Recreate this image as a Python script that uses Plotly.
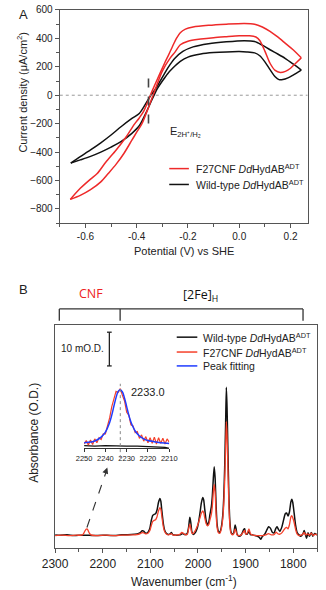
import plotly.graph_objects as go

W, H = 326, 590
def PX(x): return x / W
def PY(y): return 1 - y / H

# ---------------- Panel A data (cyclic voltammetry) ----------------
wt_upper_v = [-0.657, -0.62, -0.58, -0.54, -0.50, -0.46, -0.42, -0.39, -0.37, -0.35, -0.33, -0.31, -0.29,
              -0.27, -0.25, -0.22, -0.18, -0.12, -0.05, 0.02, 0.06, 0.09, 0.12, 0.15, 0.18, 0.21, 0.242]
wt_upper_j = [-477, -432, -385, -335, -280, -220, -165, -128, -75, -15, 35, 95, 158,
              215, 262, 308, 340, 362, 376, 384, 378, 352, 320, 290, 258, 220, 177]
wt_lower_v = [-0.657, -0.62, -0.58, -0.54, -0.50, -0.46, -0.42, -0.39, -0.36, -0.34, -0.32, -0.30, -0.28,
              -0.26, -0.23, -0.20, -0.15, -0.10, -0.05, 0.00, 0.03, 0.06, 0.08, 0.10, 0.12, 0.14, 0.155,
              0.17, 0.19, 0.21, 0.242]
wt_lower_j = [-477, -455, -430, -400, -365, -325, -270, -215, -110, -30, 45, 100, 150,
              190, 238, 268, 290, 300, 305, 307, 305, 298, 278, 235, 180, 130, 110,
              110, 122, 142, 177]
cnf_upper_v = [-0.659, -0.62, -0.58, -0.554, -0.52, -0.48, -0.44, -0.408, -0.39, -0.372, -0.348, -0.33,
               -0.311, -0.29, -0.275, -0.26, -0.245, -0.23, -0.21, -0.18, -0.12, -0.05, 0.02, 0.06, 0.09,
               0.12, 0.15, 0.18, 0.21, 0.242]
cnf_upper_j = [-733, -655, -590, -551, -470, -385, -290, -202, -160, -110, -5, 70,
               147, 230, 286, 345, 400, 440, 465, 480, 492, 500, 505, 500, 480,
               450, 410, 365, 320, 263]
cnf_lower_v = [-0.659, -0.62, -0.58, -0.54, -0.511, -0.48, -0.45, -0.42, -0.40, -0.38, -0.354, -0.33,
               -0.30, -0.269, -0.25, -0.23, -0.20, -0.15, -0.10, -0.05, 0.00, 0.04, 0.065, 0.08, 0.10,
               0.12, 0.14, 0.16, 0.18, 0.20, 0.22, 0.242]
cnf_lower_j = [-733, -705, -665, -610, -551, -485, -410, -320, -260, -202, -86, 30,
               170, 263, 305, 355, 380, 395, 405, 412, 418, 418, 410, 385, 310,
               225, 175, 160, 168, 190, 225, 263]

a_xticks = [-0.6, -0.4, -0.2, 0.0, 0.2]
a_xticktext = ["-0.6", "-0.4", "-0.2", "0.0", "0.2"]
a_yticks = [-800, -600, -400, -200, 0, 200, 400, 600]
e_eq = -0.354

# ---------------- Panel B data (IR spectra, mO.D.) ----------------
wt_wn = [2300, 2290, 2275, 2260, 2245, 2233, 2220, 2200, 2180, 2160, 2140, 2128, 2122, 2117, 2114, 2110,
         2105, 2101, 2098, 2095, 2092, 2089, 2086, 2083, 2080, 2078, 2076, 2073, 2070, 2066, 2062, 2058,
         2056, 2053, 2046, 2038, 2032, 2028, 2023, 2020, 2018, 2017, 2015, 2013, 2010, 2006, 2002, 1999,
         1996, 1993, 1990, 1988, 1986, 1983, 1980, 1977, 1975, 1972, 1970, 1968, 1966, 1964, 1962, 1960,
         1957, 1954, 1951, 1948, 1946, 1944, 1942, 1940.5, 1939, 1937, 1935, 1933, 1931, 1928, 1925, 1922,
         1920, 1918, 1914, 1909, 1904, 1902, 1900, 1897, 1893, 1890, 1885, 1880, 1875, 1871, 1868, 1865,
         1860, 1856, 1852, 1848, 1844, 1840, 1837, 1834, 1831, 1828, 1824, 1820, 1817, 1814, 1811, 1808,
         1805, 1803, 1801, 1798, 1795, 1792, 1788, 1784, 1780, 1777, 1775, 1772, 1769, 1766, 1762, 1759,
         1755, 1750]
wt_abs = [0.2, 0.1, 0.2, 0.0, 0.1, 0.1, 0.0, 0.1, 0.0, 0.2, 0.3, 0.5, 0.8, 1.4, 1.3, 0.7,
          1.0, 2.2, 4.5, 6.0, 6.3, 6.5, 7.6, 9.8, 11.0, 10.2, 7.5, 3.8, 1.6, 0.6, 0.3, 0.6,
          0.9, 0.3, 0.1, 0.2, 0.6, 0.3, 0.5, 2.2, 4.6, 5.4, 3.8, 1.2, 0.3, 0.8, 2.0, 3.8,
          6.5, 9.6, 11.3, 10.6, 8.0, 4.5, 3.0, 4.2, 6.2, 8.5, 11.5, 16.5, 20.4, 17.0, 9.0, 3.5,
          1.2, 1.0, 2.5, 6.0, 11.0, 20.0, 33.0, 44.0, 38.0, 24.0, 11.0, 4.0, 1.2, 0.4, 0.8, 3.1,
          2.0, 0.4, -0.2, 0.2, 1.8, 2.0, 0.6, 0.4, 1.2, 0.3, 0.2, 0.0, -0.2, -0.6, -1.1, -0.3,
          0.4, 1.5, 2.6, 2.2, 1.0, 0.8, 2.0, 2.6, 1.8, 1.2, 2.5, 4.8, 6.4, 6.7, 5.8, 7.0,
          10.0, 10.8, 9.8, 6.5, 3.0, 1.0, 0.2, -0.2, 0.4, 1.5, 0.6, -0.8, 0.8, -0.2, 0.9, -0.2,
          0.6, 0.2]
cnf_wn = [2300, 2285, 2270, 2255, 2245, 2241, 2238, 2235, 2233, 2231, 2228, 2225, 2215, 2195, 2175, 2160,
          2140, 2128, 2122, 2117, 2114, 2110, 2105, 2101, 2098, 2095, 2092, 2089, 2086, 2083, 2080, 2078,
          2076, 2073, 2070, 2066, 2062, 2058, 2056, 2053, 2046, 2038, 2034, 2030, 2026, 2022, 2020, 2018,
          2017, 2015, 2013, 2010, 2006, 2002, 1999, 1996, 1993, 1990, 1988, 1986, 1983, 1980, 1977, 1975,
          1972, 1970, 1968, 1966, 1964, 1962, 1960, 1957, 1954, 1951, 1948, 1946, 1944, 1942, 1940.5, 1939,
          1937, 1935, 1933, 1931, 1928, 1925, 1922, 1920, 1918, 1914, 1909, 1904, 1902, 1900, 1897, 1893,
          1890, 1885, 1875, 1865, 1858, 1852, 1846, 1840, 1836, 1832, 1828, 1824, 1820, 1817, 1814, 1811,
          1808, 1805, 1803, 1801, 1798, 1795, 1792, 1788, 1784, 1780, 1777, 1774, 1770, 1766, 1762, 1758,
          1754, 1750]
cnf_abs = [0.0, 0.1, 0.0, 0.1, 0.1, 0.4, 1.2, 1.9, 2.0, 1.6, 0.7, 0.2, 0.0, 0.1, 0.0, 0.1,
           0.2, 0.3, 0.5, 0.9, 0.8, 0.5, 0.7, 1.5, 3.0, 4.2, 4.5, 4.7, 5.6, 7.3, 8.3, 7.8,
           5.8, 2.8, 1.2, 0.4, 0.2, 0.4, 0.6, 0.2, 0.1, 0.4, 0.9, 0.6, 0.2, 0.4, 1.8, 3.0,
           3.4, 2.2, 0.8, 0.6, 1.4, 2.6, 3.8, 5.2, 6.6, 7.3, 6.8, 5.4, 3.6, 2.9, 3.4, 4.6,
           6.3, 8.5, 12.5, 15.2, 12.8, 6.5, 2.5, 0.8, 0.7, 2.0, 5.0, 9.0, 16.0, 26.0, 33.8, 30.0,
           19.0, 8.5, 3.0, 0.8, 0.2, 0.5, 2.0, 1.2, 0.2, 0.0, 0.2, 1.2, 1.5, 0.5, 0.6, 2.0,
           0.6, 0.1, 0.0, 0.0, 0.2, 0.6, 0.2, 0.3, 1.0, 0.5, 0.4, 0.8, 1.6, 2.2, 2.4, 2.0,
           3.2, 5.5, 5.9, 5.3, 3.8, 1.8, 0.5, 0.0, 0.1, 0.4, 0.9, 0.2, 0.5, 0.1, 0.7, 0.0,
           0.4, 0.2]
b_xticks = [2300, 2200, 2100, 2000, 1900, 1800]

# inset (normalised CNF band)
inset_wn = list(range(2250, 2209, -1))
inset_cnf = [0.04, 0.10, 0.02, 0.11, 0.03, 0.13, 0.06, 0.15, 0.12, 0.22, 0.22, 0.36, 0.50, 0.70, 0.82,
             0.97, 0.95, 1.02, 0.90, 0.80, 0.60, 0.55, 0.38, 0.36, 0.24, 0.26, 0.14, 0.20, 0.09, 0.17,
             0.06, 0.15, 0.05, 0.16, 0.04, 0.15, 0.05, 0.14, 0.04, 0.13, 0.07]
fit_wn = [2250, 2248, 2246, 2244, 2242, 2240, 2238, 2237, 2236, 2235, 2234, 2233, 2232, 2231, 2230, 2229,
          2228, 2227, 2226, 2224, 2222, 2220, 2217, 2214, 2210]
fit_val = [0.06, 0.07, 0.08, 0.11, 0.16, 0.25, 0.42, 0.55, 0.71, 0.86, 0.97, 1.00, 0.96, 0.85, 0.70, 0.55,
           0.43, 0.34, 0.27, 0.18, 0.13, 0.10, 0.08, 0.06, 0.05]
inset_wt_wn = [2250, 2245, 2240, 2235, 2230, 2225, 2220, 2215, 2212, 2210]
inset_wt = [0.01, 0.0, 0.01, 0.0, 0.0, 0.0, -0.01, -0.01, -0.02, -0.04]
inset_ticks = [2250, 2240, 2230, 2220, 2210]
peak_pos = 2233.0

RED_A = "#ee2a2a"
RED_B = "#f5402a"
BLUE = "#1f3cff"
BLK = "#111111"
AX = "#555555"
FONT = "Liberation Sans, Arial, sans-serif"

fig = go.Figure()
# Panel A traces
for v, j, c in [(wt_upper_v, wt_upper_j, BLK), (wt_lower_v, wt_lower_j, BLK),
                (cnf_upper_v, cnf_upper_j, RED_A), (cnf_lower_v, cnf_lower_j, RED_A)]:
    fig.add_trace(go.Scatter(x=v, y=j, mode="lines", line=dict(color=c, width=1.5, shape="spline", smoothing=0.8),
                             xaxis="x", yaxis="y", showlegend=False, hoverinfo="skip"))
# Panel B traces
fig.add_trace(go.Scatter(x=wt_wn, y=wt_abs, mode="lines", line=dict(color=BLK, width=1.5, shape="spline", smoothing=0.5),
                         xaxis="x2", yaxis="y2", showlegend=False))
fig.add_trace(go.Scatter(x=cnf_wn, y=cnf_abs, mode="lines", line=dict(color=RED_B, width=1.3, shape="spline", smoothing=0.5),
                         xaxis="x2", yaxis="y2", showlegend=False))
# inset traces
fig.add_trace(go.Scatter(x=inset_wt_wn, y=inset_wt, mode="lines", line=dict(color=BLK, width=1.3),
                         xaxis="x3", yaxis="y3", showlegend=False))
fig.add_trace(go.Scatter(x=inset_wn, y=inset_cnf, mode="lines", line=dict(color=RED_B, width=1.2),
                         xaxis="x3", yaxis="y3", showlegend=False))
fig.add_trace(go.Scatter(x=fit_wn, y=fit_val, mode="lines", line=dict(color=BLUE, width=1.5, shape="spline"),
                         xaxis="x3", yaxis="y3", showlegend=False))

shapes = []
annots = []


def note(text, x, y, size, xa="center", ya="middle", color="#222", **kw):
    d = dict(text=text, x=PX(x), y=PY(y), xref="paper", yref="paper", xanchor=xa, yanchor=ya,
             showarrow=False, font=dict(size=size, color=color, **kw.pop("fontkw", {})))
    d.update(kw)
    annots.append(d)


# zero line & E_eq marker in A
shapes.append(dict(type="line", xref="x", yref="y", x0=-0.7, x1=0.267, y0=0, y1=0,
                   line=dict(color="#999999", width=1, dash="dot")))
shapes.append(dict(type="line", xref="x", yref="y", x0=e_eq, x1=e_eq, y0=118, y1=-202,
                   line=dict(color="#444444", width=1.6, dash="dash")))
# legend A (manual)
for yy, c, t in [(165, RED_A, "F27CNF <i>Dd</i>HydAB<sup>ADT</sup>"), (181, BLK, "Wild-type <i>Dd</i>HydAB<sup>ADT</sup>")]:
    shapes.append(dict(type="line", xref="paper", yref="paper", x0=PX(167), x1=PX(188), y0=PY(yy), y1=PY(yy),
                       line=dict(color=c, width=1.5)))
    note(t, 193, yy, 10.5, xa="left")
# legend B (manual)
for yy, c, t in [(335, BLK, "Wild-type <i>Dd</i>HydAB<sup>ADT</sup>"), (350, RED_B, "F27CNF <i>Dd</i>HydAB<sup>ADT</sup>"),
                 (364, BLUE, "Peak fitting")]:
    shapes.append(dict(type="line", xref="paper", yref="paper", x0=PX(175), x1=PX(197), y0=PY(yy), y1=PY(yy),
                       line=dict(color=c, width=1.5)))
    note(t, 201, yy, 10.5, xa="left")
# brackets above B
bk = dict(color="#333333", width=1.3)
shapes.append(dict(type="line", xref="paper", yref="paper", x0=PX(49.5), x1=PX(310), y0=PY(306.5), y1=PY(306.5), line=bk))
for xx in [49.5, 114.5, 310]:
    shapes.append(dict(type="line", xref="paper", yref="paper", x0=PX(xx), x1=PX(xx), y0=PY(306.5), y1=PY(318.5), line=bk))
note("CNF", 83, 291, 12.5, color="#ee2222", fontkw=dict(family="Open Sans"))
note("[2Fe]<sub>H</sub>", 200, 293, 12.5, color="#111", fontkw=dict(family="Open Sans"))
# scale bar
sb = dict(color="#222222", width=1.3)
shapes.append(dict(type="line", xref="paper", yref="paper", x0=PX(103), x1=PX(103), y0=PY(330), y1=PY(364), line=sb))
for yy in [330, 364]:
    shapes.append(dict(type="line", xref="paper", yref="paper", x0=PX(100.5), x1=PX(105.5), y0=PY(yy), y1=PY(yy), line=sb))
note("10 mO.D.", 99, 346, 10, xa="right")
# inset peak marker
shapes.append(dict(type="line", xref="x3", yref="paper", x0=peak_pos, x1=peak_pos, y0=PY(457), y1=PY(382),
                   line=dict(color="#888888", width=1, dash="dot")))
note("%.1f" % peak_pos, 124, 390, 11, xa="left")
# dashed arrow from main CNF band to inset
shapes.append(dict(type="line", xref="paper", yref="paper", x0=PX(79), y0=PY(527), x1=PX(99.5), y1=PY(471),
                   line=dict(color="#333333", width=1.1, dash="dash")))
annots.append(dict(text="", x=PX(100.8), y=PY(466.5), xref="paper", yref="paper", showarrow=True, arrowhead=2,
                   arrowsize=1.1, arrowwidth=1.1, arrowcolor="#333333", ax=-2.5, ay=7))
# panel letters and titles
note("A", 11, 10, 13)
note("B", 11, 287, 13)
note("Current density (μA/cm<sup>2</sup>)", 10, 88, 11, textangle=-90)
note("Potential (V) vs SHE", 183, 248, 11)
note("E<sub>2H⁺/H₂</sub>", 166, 128, 11, xa="left")
note("Absorbance (O.D.)", 23, 432, 12, textangle=-90)
note("Wavenumber (cm<sup>-1</sup>)", 183, 581, 12)

axis_common = dict(showgrid=False, zeroline=False, showline=True, linecolor=AX, linewidth=1.2,
                   ticks="outside", tickcolor=AX, ticklen=4, tickwidth=1, ticklabeloverflow="allow")
fig.update_layout(
    width=W, height=H, margin=dict(l=0, r=0, t=0, b=0),
    paper_bgcolor="white", plot_bgcolor="white",
    font=dict(family=FONT, color="#222", size=10),
    showlegend=False,
    xaxis=dict(domain=[PX(50), PX(315)], range=[-0.7, 0.267], anchor="y", mirror=True,
               tickvals=a_xticks, ticktext=a_xticktext, tickfont=dict(size=10),
               minor=dict(dtick=0.1, tick0=0, ticks="outside", ticklen=2.5, tickcolor=AX), **axis_common),
    yaxis=dict(domain=[PY(220), PY(5)], range=[-900, 600], anchor="x", mirror=True,
               tickvals=a_yticks, tickfont=dict(size=10),
               minor=dict(dtick=100, tick0=0, ticks="outside", ticklen=2.5, tickcolor=AX), **axis_common),
    xaxis2=dict(domain=[PX(45), PX(325)], range=[2300, 1750], anchor="y2", mirror=True,
                tickvals=b_xticks, tickfont=dict(size=12),
                minor=dict(dtick=50, tick0=0, ticks="outside", ticklen=2.5, tickcolor=AX), **axis_common),
    yaxis2=dict(domain=[PY(548), PY(323)], range=[-3.8, 62.4], anchor="x2", mirror=True,
                showgrid=False, zeroline=False, showline=True, linecolor=AX, linewidth=1.2,
                ticks="", showticklabels=False),
    xaxis3=dict(domain=[PX(76), PX(167)], range=[2250, 2210], anchor="y3",
                tickvals=inset_ticks, tickfont=dict(size=7.5), showgrid=False, zeroline=False,
                showline=True, linecolor="#333", linewidth=1, ticks="outside", ticklen=3, tickcolor="#333",
                ticklabeloverflow="allow"),
    yaxis3=dict(domain=[PY(446.7), PY(380)], range=[-0.03, 1.14], anchor="x3", visible=False),
    shapes=shapes, annotations=annots,
)
fig.write_html("out.html")
